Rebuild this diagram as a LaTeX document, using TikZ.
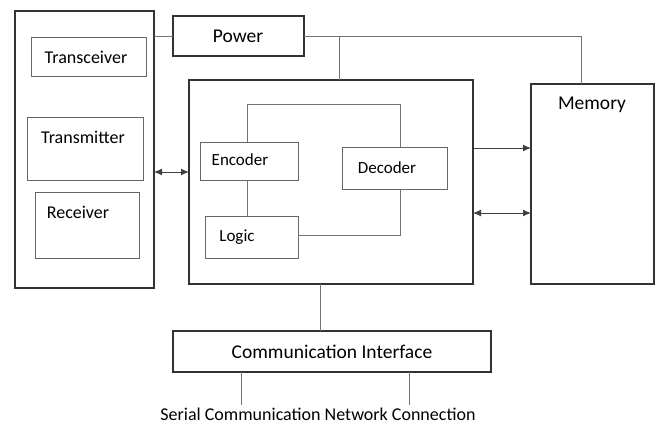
\documentclass[tikz,border=0pt]{standalone}
\usepackage{fontspec}
\setmainfont{Carlito}
\usetikzlibrary{arrows.meta}
\begin{document}
\begin{tikzpicture}[x=1pt,y=-1pt,
  outer/.style={draw=black!80,line width=1.6pt,inner sep=0pt,outer sep=0pt,rectangle},
  inner/.style={draw=black!60,line width=1pt,inner sep=0pt,outer sep=0pt,rectangle},
  lbl/.style={inner sep=0pt,font=\fontsize{17}{19}\selectfont},
  big/.style={inner sep=0pt,font=\fontsize{19.5}{22}\selectfont},
  wire/.style={draw=black!55,line width=1pt},
  arr/.style={draw=black!75,line width=1pt,-{Latex[length=8pt,width=7pt]}},
  darr/.style={draw=black!75,line width=1pt,{Latex[length=8pt,width=7pt]}-{Latex[length=8pt,width=7pt]}}]
\useasboundingbox (0,0) rectangle (657,424);
% boxes
\node[outer,minimum width=139pt,minimum height=277pt] (left) at (84.5,149.5) {};
\node[inner,minimum width=115pt,minimum height=39pt] (trx) at (88.5,56.5) {};
\node[inner,minimum width=116pt,minimum height=63pt] (tx) at (85,148.5) {};
\node[inner,minimum width=104pt,minimum height=66pt] (rx) at (87,225) {};
\node[outer,minimum width=131pt,minimum height=40pt] (power) at (238.5,36) {};
\node[outer,minimum width=284pt,minimum height=204pt] (main) at (331,182) {};
\node[inner,minimum width=98pt,minimum height=38pt] (enc) at (249,161) {};
\node[inner,minimum width=105pt,minimum height=42pt] (dec) at (394.5,168) {};
\node[inner,minimum width=93pt,minimum height=42pt] (logic) at (251.5,237) {};
\node[outer,minimum width=123pt,minimum height=200pt] (mem) at (592.5,184) {};
\node[outer,minimum width=318pt,minimum height=41pt] (comm) at (332,351.5) {};
% labels
\node[lbl,font=\fontsize{18}{20}\selectfont] (ttrx) at (86,57) {Transceiver};
\node[lbl,font=\fontsize{18}{20}\selectfont] (ttx) at (83,137) {Transmitter};
\node[lbl,font=\fontsize{18}{20}\selectfont] (trx2) at (78,212) {Receiver};
\node[big] (tpow) at (238,36) {Power};
\node[lbl] (tenc) at (240,160) {Encoder};
\node[lbl] (tdec) at (387,168) {Decoder};
\node[lbl] (tlog) at (237,237) {Logic};
\node[big] (tmem) at (592,105) {Memory};
\node[big] (tcomm) at (332,352) {Communication Interface};
\node[lbl,font=\fontsize{18}{20}\selectfont] (tser) at (318,414) {Serial Communication Network Connection};
% power wiring
\coordinate (pr) at (581,36);
\coordinate (pm) at (339,36);
\draw[wire] (left.east |- power.west) -- (power.west);
\draw[wire] (power.east) -- (pr) -- (pr |- mem.north);
\draw[wire] (pm) -- (pm |- main.north);
% inner wiring
\coordinate (et) at (247,104);
\coordinate (db) at (400,235);
\draw[wire] (et |- enc.north) -- (et) -- (db |- et) -- (db |- dec.north);
\draw[wire] (db |- dec.south) -- (db) -- (logic.east |- db);
\draw[wire] (et |- enc.south) -- (et |- logic.north);
% arrows
\coordinate (a1) at (0,172);
\draw[darr] (left.east |- a1) -- (main.west |- a1);
\coordinate (a2) at (0,148);
\draw[arr] (main.east |- a2) -- (mem.west |- a2);
\coordinate (a3) at (0,213);
\draw[darr] (main.east |- a3) -- (mem.west |- a3);
% bottom
\coordinate (cm) at (320,0);
\draw[wire] (cm |- main.south) -- (cm |- comm.north);
\coordinate (s1) at (241,405);
\coordinate (s2) at (409,405);
\draw[wire] (s1 |- comm.south) -- (s1);
\draw[wire] (s2 |- comm.south) -- (s2);
\end{tikzpicture}
\end{document}
